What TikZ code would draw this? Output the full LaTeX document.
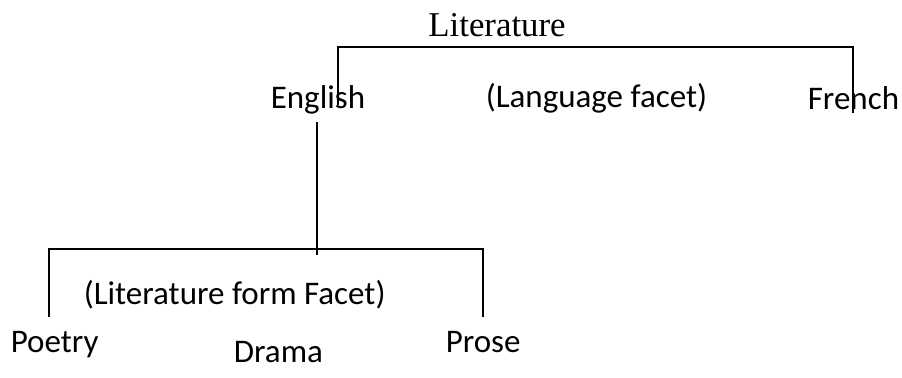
\documentclass[tikz,border=0pt]{standalone}
\usepackage{fontspec}
\setmainfont{Carlito}
\newfontfamily\timesfont{Liberation Serif}
\usetikzlibrary{positioning}

\begin{document}
\begin{tikzpicture}[x=0.5pt,y=-0.5pt,line width=0.8pt]

    \tikzstyle{every node}=[inner sep=0pt,anchor=base west,font=\fontsize{16.5}{18}\selectfont]
    \tikzstyle{head}=[font=\timesfont\fontsize{17.4}{19}\selectfont,anchor=base]

    \useasboundingbox (0,0) rectangle (902,378);

    % facet labels
    \node[head] (lit)   at (497,37)  {Literature};
    \node       (eng)   at (270,109) {English};
    \node       (lang)  at (485,108) {(Language facet)};
    \node       (fre)   at (807,110) {French};
    \node       (form)  at (83,305)  {(Literature form Facet)};
    \node       (poe)   at (10,353)  {Poetry};
    \node       (dra)   at (233,363) {Drama};
    \node       (pro)   at (445,353) {Prose};

    % brackets
    \coordinate (engtop) at (338,105);
    \coordinate (fretop) at (853,113);
    \coordinate (topbar) at (338,47);
    \coordinate (mid)    at (317,122);
    \coordinate (midbot) at (317,255);
    \coordinate (poetop) at (49,317);
    \coordinate (protop) at (483,317);
    \coordinate (lowbar) at (49,249);

    \draw (engtop) -- (topbar) -| (fretop);
    \draw (mid) -- (midbot);
    \draw (poetop) -- (lowbar) -| (protop);
  \end{tikzpicture}
\end{document}
